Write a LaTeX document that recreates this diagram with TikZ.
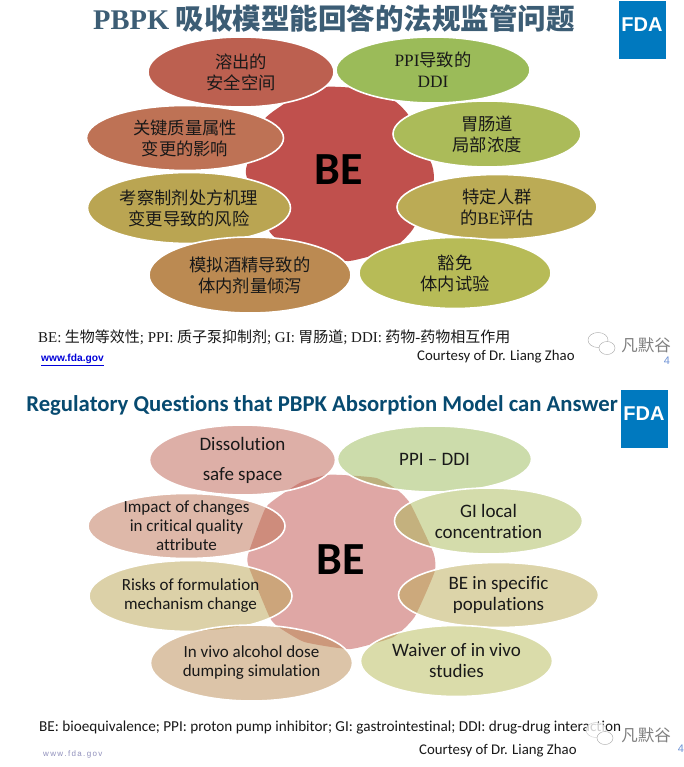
\documentclass[tikz,border=0pt]{standalone}
\usepackage{fontspec}
\setmainfont{Carlito}[Ligatures=NoCommon]
\newfontfamily\cjk{Noto Sans CJK SC}
\newfontfamily\timesf{Liberation Serif}
\newfontfamily\arialf{Liberation Sans}
\usetikzlibrary{shapes.geometric,positioning}
\definecolor{fdablue}{HTML}{0079BF}
\definecolor{cdiss}{HTML}{BC6050}
\definecolor{cppi}{HTML}{9BBB59}
\definecolor{cgi}{HTML}{ABBB59}
\definecolor{cimp}{HTML}{BE7255}
\definecolor{crisk}{HTML}{BAA552}
\definecolor{cpop}{HTML}{BBAB55}
\definecolor{calc}{HTML}{BB8A52}
\definecolor{cwaiv}{HTML}{B7BB57}
\definecolor{chub}{HTML}{C0504D}
\definecolor{ctitle}{HTML}{3C5D75}
\definecolor{ctitleb}{HTML}{074A70}
\definecolor{cnum}{HTML}{6F93D6}
\newcommand{\hubshape}{plot[smooth cycle,tension=.3] coordinates {(341,87) (375,90) (396,102) (409,116) (432,165) (433,184) (413,229) (392,249) (349,261) (303,254) (277,239) (268,229) (247,178) (247,165) (264,120) (281,106) (300,94) (325,87)}}
\begin{document}
\begin{tikzpicture}[x=1pt,y=-1pt,
  bub/.style={ellipse,draw=white,line width=1.6pt,inner sep=-16pt,align=center,text=black!90},
  zh/.style={font=\cjk\fontsize{17.3}{21}\selectfont},
  en/.style={font=\fontsize{19}{21}\selectfont},
  ensmall/.style={font=\fontsize{17}{19}\selectfont},
  full/.style={fill opacity=1,text opacity=1},
  pale/.style={fill opacity=.5,text opacity=1},
  logo/.style={fill=fdablue,minimum width=47pt,minimum height=58pt,inner sep=0pt,text=white,font=\arialf\bfseries\fontsize{20}{20}\selectfont},
  wmark/.style={font=\cjk\fontsize{16.5}{17}\selectfont,text=black!50},
  num/.style={font=\arialf\fontsize{11}{11}\selectfont,text=cnum},
  foot/.style={font=\fontsize{14.8}{15}\selectfont,text=black!90,anchor=west,inner sep=0pt},
  bename/.style={font=\bfseries\fontsize{46}{46}\selectfont,inner sep=0pt}]

  \useasboundingbox (0,0) rectangle (683,767);
  \fill[white] (0,0) rectangle (683,767);

  \node[inner sep=0pt,text=ctitle,font=\cjk\bfseries\fontsize{28.5}{30}\selectfont] (titlea) at (334,19) {{\timesf PBPK} 吸收模型能回答的法规监管问题};
  \node[logo] (logoa) at (642,30) {\raisebox{11pt}{FDA}};
  \fill[chub] \hubshape;
  \node[bename] (bea) at (339,170) {BE};
  \node[bub,zh,full,fill=cdiss,minimum width=186pt,minimum height=70pt] (dissa) at (241,72) {溶出的\\安全空间};
  \node[bub,zh,full,fill=cppi,minimum width=194pt,minimum height=66pt] (ppia) at (433,70) {{\timesf PPI}导致的\\{\timesf DDI}};
  \node[bub,zh,full,fill=cgi,minimum width=188pt,minimum height=66pt] (gia) at (487,134) {胃肠道\\局部浓度};
  \node[bub,zh,full,fill=cimp,minimum width=197pt,minimum height=65pt] (impa) at (185,138) {关键质量属性\\变更的影响};
  \node[bub,zh,full,fill=crisk,minimum width=203pt,minimum height=71pt] (riska) at (189,208) {考察制剂处方机理\\变更导致的风险};
  \node[bub,zh,full,fill=cpop,minimum width=200pt,minimum height=65pt] (popa) at (497,207) {特定人群\\的{\timesf BE}评估};
  \node[bub,zh,full,fill=calc,minimum width=202pt,minimum height=76pt] (alca) at (250,275) {模拟酒精导致的\\体内剂量倾泻};
  \node[bub,zh,full,fill=cwaiv,minimum width=192pt,minimum height=71pt] (waiva) at (455,273) {豁免\\体内试验};
  \node[foot,font=\cjk\fontsize{15}{15}\selectfont] (nota) at (38,337) {{\timesf BE:} 生物等效性{\timesf ; PPI:} 质子泵抑制剂{\timesf ; GI:} 胃肠道{\timesf ; DDI:} 药物{\timesf -}药物相互作用};
  \node[foot,font=\arialf\bfseries\fontsize{10.2}{10}\selectfont,text=blue!85!black] (urla) at (41,360) {\underline{www.fda.gov}};
  \node[foot] (coura) at (417,357) {Courtesy of Dr. Liang Zhao};
  \node[wmark] (marka) at (646,345) {凡默谷};
  \node[num] (numa) at (667,361) {4};
  \draw[black!35,fill=white] (598,340) ellipse (10 and 7.5);
  \draw[black!35,fill=white] (607,348) ellipse (8 and 6.5);

  \node[inner sep=0pt,text=ctitleb,font=\bfseries\fontsize{22.7}{25}\selectfont] (titleb) at (322,405) {Regulatory Questions that PBPK Absorption Model can Answer};
  \node[logo] (logob) at (644,419) {\raisebox{11pt}{FDA}};
  \begin{scope}[shift={(1.5,388)}]
    \fill[chub,fill opacity=.5] \hubshape;
    \node[bename] (beb) at (339,172) {BE};
    \node[bub,en,pale,fill=cdiss,minimum width=186pt,minimum height=70pt] (dissb) at (241,72) {\raisebox{-2pt}{Dissolution}\\[9pt]\raisebox{-2pt}{safe space}};
    \node[bub,en,pale,fill=cppi,minimum width=194pt,minimum height=66pt] (ppib) at (433,71) {PPI -- DDI};
    \node[bub,en,pale,fill=cgi,minimum width=188pt,minimum height=66pt] (gib) at (487,133) {GI local\\concentration};
    \node[bub,ensmall,pale,fill=cimp,minimum width=197pt,minimum height=65pt] (impb) at (185,138) {Impact of changes\\in critical quality\\attribute};
    \node[bub,ensmall,pale,fill=crisk,minimum width=203pt,minimum height=71pt] (riskb) at (189,208) {Risks of formulation\\mechanism change};
    \node[bub,en,pale,fill=cpop,minimum width=200pt,minimum height=65pt] (popb) at (497,207) {BE in specific\\populations};
    \node[bub,ensmall,pale,fill=calc,minimum width=202pt,minimum height=76pt] (alcb) at (250,275) {In vivo alcohol dose\\dumping simulation};
    \node[bub,en,pale,fill=cwaiv,minimum width=192pt,minimum height=71pt] (waivb) at (455,273) {Waiver of in vivo\\studies};
  \end{scope}
  \node[foot,font=\fontsize{15.2}{15}\selectfont] (notb) at (39,728) {BE: bioequivalence; PPI: proton pump inhibitor; GI: gastrointestinal; DDI: drug-drug interaction};
  \node[foot,font=\arialf\fontsize{8}{8}\selectfont,text=blue!25!gray!70] (urlb) at (43,754) {w\,w\,w\,.\,f\,d\,a\,.\,g\,o\,v};
  \node[foot] (courb) at (419,751) {Courtesy of Dr. Liang Zhao};
  \node[wmark] (markb) at (646,735) {凡默谷};
  \node[num] (numb) at (681,749) {4};
  \draw[black!20,fill=white,fill opacity=.8] (596,730) ellipse (10 and 7.5);
  \draw[black!35,fill=white] (605,738) ellipse (8 and 6.5);
\end{tikzpicture}
\end{document}
